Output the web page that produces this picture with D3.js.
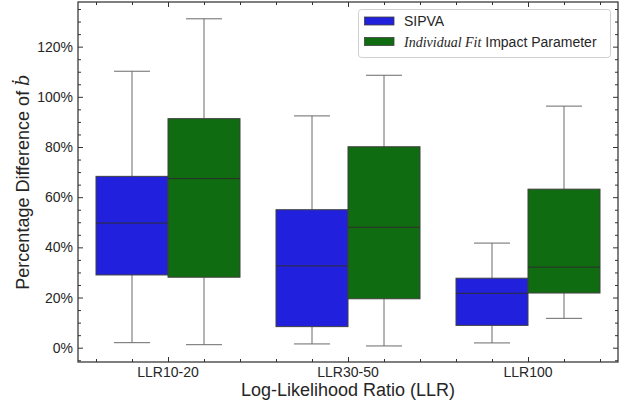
<!DOCTYPE html>
<html><head><meta charset="utf-8">
<script src="https://cdn.jsdelivr.net/npm/d3@7"></script>
<style>body{margin:0;background:#fff;} svg{display:block;font-family:"Liberation Sans",Arial,sans-serif;}</style>
</head><body>
<svg id="c" width="628" height="403"></svg>
<script>
const categories = ["LLR10-20", "LLR30-50", "LLR100"];
const seriesNames = ["SIPVA", "Individual Fit Impact Parameter"];
// [lower whisker, Q1, median, Q3, upper whisker] in %
const sipvaStats = [
  [2.0, 29.0, 49.7, 68.3, 110.2],
  [1.5, 8.4, 32.6, 55.0, 92.4],
  [1.9, 8.9, 21.7, 27.7, 41.7]
];
const fitStats = [
  [1.2, 28.1, 67.4, 91.3, 131.1],
  [0.7, 19.5, 48.0, 80.1, 108.6],
  [11.7, 21.8, 32.1, 63.2, 96.3]
];
const yTicks = [0, 20, 40, 60, 80, 100, 120];
const colors = ["#2121dd", "#106c10"];

const svg = d3.select("#c");
const L = 78, R = 618, T = 2, B = 362;
const x = d3.scaleLinear().domain([-0.5, 2.5]).range([L, R]);
const y = d3.scaleLinear().domain([-5.7, 137.8]).range([B, T]);
const boxW = 0.4;

const allStats = [sipvaStats, fitStats];
const g = svg.append("g");
allStats.forEach((stats, si) => {
  stats.forEach((s, ci) => {
    const x0 = ci - 0.4 + si * boxW, x1 = x0 + boxW, xc = (x0 + x1) / 2;
    const cg = g.append("g");
    cg.append("line").attr("x1", x(xc)).attr("x2", x(xc)).attr("y1", y(s[0])).attr("y2", y(s[1]))
      .attr("stroke", "#6a6a6a").attr("stroke-width", 1);
    cg.append("line").attr("x1", x(xc)).attr("x2", x(xc)).attr("y1", y(s[3])).attr("y2", y(s[4]))
      .attr("stroke", "#6a6a6a").attr("stroke-width", 1);
    [s[0], s[4]].forEach(v => {
      cg.append("line").attr("x1", x(xc - boxW / 4)).attr("x2", x(xc + boxW / 4)).attr("y1", y(v)).attr("y2", y(v))
        .attr("stroke", "#6a6a6a").attr("stroke-width", 1);
    });
    cg.append("rect").attr("x", x(x0)).attr("width", x(x1) - x(x0))
      .attr("y", y(s[3])).attr("height", y(s[1]) - y(s[3]))
      .attr("fill", colors[si]).attr("stroke", "#3f3f3f").attr("stroke-width", 1);
    cg.append("line").attr("x1", x(x0)).attr("x2", x(x1)).attr("y1", y(s[2])).attr("y2", y(s[2]))
      .attr("stroke", "#2e2e2e").attr("stroke-width", 1);
  });
});

const axisColor = "#333";
const yMinor = d3.range(-5, 137, 5).filter(v => v % 20 !== 0);
const xMinor = d3.range(-0.4, 2.5, 0.2).map(v => Math.round(v * 10) / 10).filter(v => Math.abs(v - Math.round(v)) > 1e-6);

const gl = svg.append("g").attr("transform", `translate(${L},0)`)
  .call(d3.axisRight(y).tickValues(yTicks).tickSize(5).tickFormat(""));
const glm = svg.append("g").attr("transform", `translate(${L},0)`)
  .call(d3.axisRight(y).tickValues(yMinor).tickSize(3).tickFormat(""));
const gr = svg.append("g").attr("transform", `translate(${R},0)`)
  .call(d3.axisLeft(y).tickValues(yTicks).tickSize(5).tickFormat(""));
const grm = svg.append("g").attr("transform", `translate(${R},0)`)
  .call(d3.axisLeft(y).tickValues(yMinor).tickSize(3).tickFormat(""));
const gb = svg.append("g").attr("transform", `translate(0,${B})`)
  .call(d3.axisTop(x).tickValues([0, 1, 2]).tickSize(5).tickFormat(""));
const gbm = svg.append("g").attr("transform", `translate(0,${B})`)
  .call(d3.axisTop(x).tickValues(xMinor).tickSize(3).tickFormat(""));
const gt = svg.append("g").attr("transform", `translate(0,${T})`)
  .call(d3.axisBottom(x).tickValues([0, 1, 2]).tickSize(5).tickFormat(""));
const gtm = svg.append("g").attr("transform", `translate(0,${T})`)
  .call(d3.axisBottom(x).tickValues(xMinor).tickSize(3).tickFormat(""));
[gl, glm, gr, grm, gb, gbm, gt, gtm].forEach(a => {
  a.select(".domain").remove();
  a.selectAll(".tick line").attr("stroke", axisColor).attr("stroke-width", 1);
});
svg.append("g").selectAll("text").data(yTicks).join("text")
  .attr("x", L - 5).attr("y", d => y(d)).attr("dy", "0.36em")
  .attr("text-anchor", "end").attr("font-size", 14).attr("fill", "#262626")
  .text(d => d + "%");
svg.append("g").selectAll("text").data(categories).join("text")
  .attr("x", (d, i) => x(i)).attr("y", B + 15)
  .attr("text-anchor", "middle").attr("font-size", 14).attr("fill", "#262626")
  .text(d => d);
svg.append("rect").attr("x", L).attr("y", T).attr("width", R - L).attr("height", B - T)
  .attr("fill", "none").attr("stroke", axisColor).attr("stroke-width", 1.25);

svg.append("text").attr("x", (L + R) / 2).attr("y", 396).attr("text-anchor", "middle")
  .attr("font-size", 18).attr("fill", "#262626").text("Log-Likelihood Ratio (LLR)");
const yl = svg.append("text").attr("transform", `translate(29,${(T + B) / 2}) rotate(-90)`)
  .attr("text-anchor", "middle").attr("font-size", 18).attr("fill", "#262626");
yl.append("tspan").text("Percentage Difference of ");
yl.append("tspan").attr("font-family", "'DejaVu Serif','Liberation Serif',serif").attr("font-style", "italic").text("ḃ");

const lg = svg.append("g");
lg.append("rect").attr("x", 358.5).attr("y", 9.5).attr("width", 252).attr("height", 48).attr("rx", 3)
  .attr("fill", "#fff").attr("fill-opacity", 0.8).attr("stroke", "#d0d0d0").attr("stroke-width", 1);
seriesNames.forEach((nm, i) => {
  const yy = 21 + i * 20.5;
  lg.append("rect").attr("x", 364.5).attr("y", yy - 4).attr("width", 29.5).attr("height", 8)
    .attr("fill", colors[i]).attr("stroke", "#3f3f3f").attr("stroke-width", 0.8);
  const t = lg.append("text").attr("x", 404).attr("y", yy).attr("dy", "0.36em")
    .attr("font-size", 14).attr("fill", "#262626");
  if (i === 0) {
    t.text(nm);
  } else {
    t.append("tspan").attr("font-family", "'Liberation Serif','Times New Roman',serif").attr("font-style", "italic").text("Individual Fit");
    t.append("tspan").text(" Impact Parameter");
  }
});
</script>
</body></html>
